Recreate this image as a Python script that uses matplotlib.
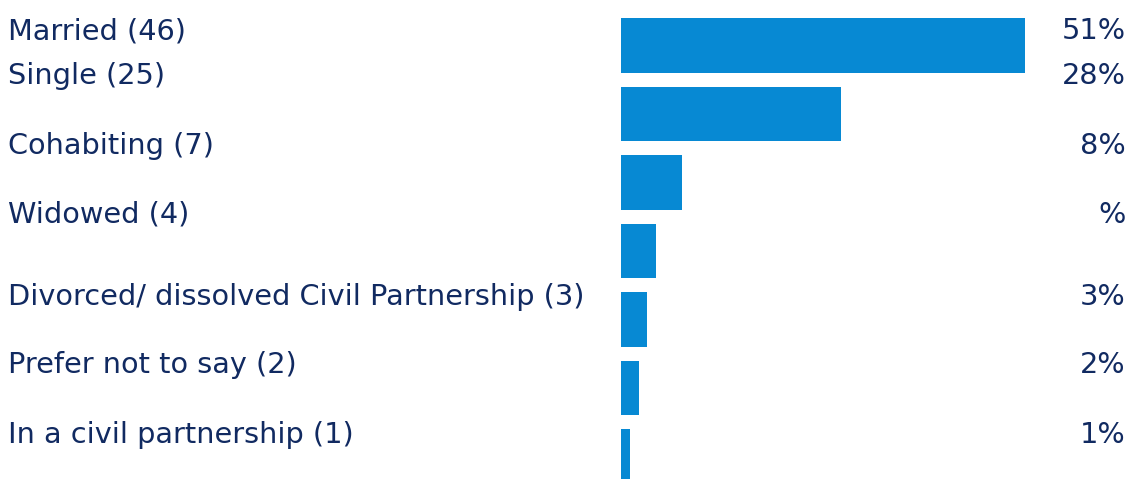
import matplotlib.pyplot as plt
import matplotlib.transforms as mtransforms

###############
#    DATA     #
###############

categories = [
    'Married (46)',
    'Single (25)',
    'Cohabiting (7)',
    'Widowed (4)',
    'Divorced/ dissolved Civil Partnership (3)',
    'Prefer not to say (2)',
    'In a civil partnership (1)',
]
counts = [46, 25, 7, 4, 3, 2, 1]
pct_labels = ['51%', '28%', '8%', '%', '3%', '2%', '1%']

###############
#   LAYOUT    #
###############

# labels sit a little above their bars in the original
label_shift = [-0.21, -0.55, -0.54, -0.53, -0.33, -0.33, -0.32]

TEXT_COLOR = '#112a61'
BAR_COLOR = '#0789d3'
W, H = 1133, 479

plt.rcParams['font.family'] = ['DejaVu Sans']

fig = plt.figure(figsize=(W / 100, H / 100), dpi=100)
ax = fig.add_axes([621 / W, 0, 404 / W, 1])

pos = list(range(len(counts)))
ax.barh(pos, counts, height=0.8, color=BAR_COLOR, align='center')
ax.set_xlim(0, counts[0])
ax.set_ylim(6.328, -0.664)
ax.axis('off')

trans = mtransforms.blended_transform_factory(fig.transFigure, ax.transData)
for i, (name, pct) in enumerate(zip(categories, pct_labels)):
    y = i + label_shift[i]
    ax.text(8 / W, y, name, transform=trans, ha='left', va='center',
            fontsize=20.7, color=TEXT_COLOR, clip_on=False)
    ax.text(1126 / W, y, pct, transform=trans, ha='right', va='center',
            fontsize=20.7, color=TEXT_COLOR, clip_on=False)

fig.savefig('out.png', dpi=100)
